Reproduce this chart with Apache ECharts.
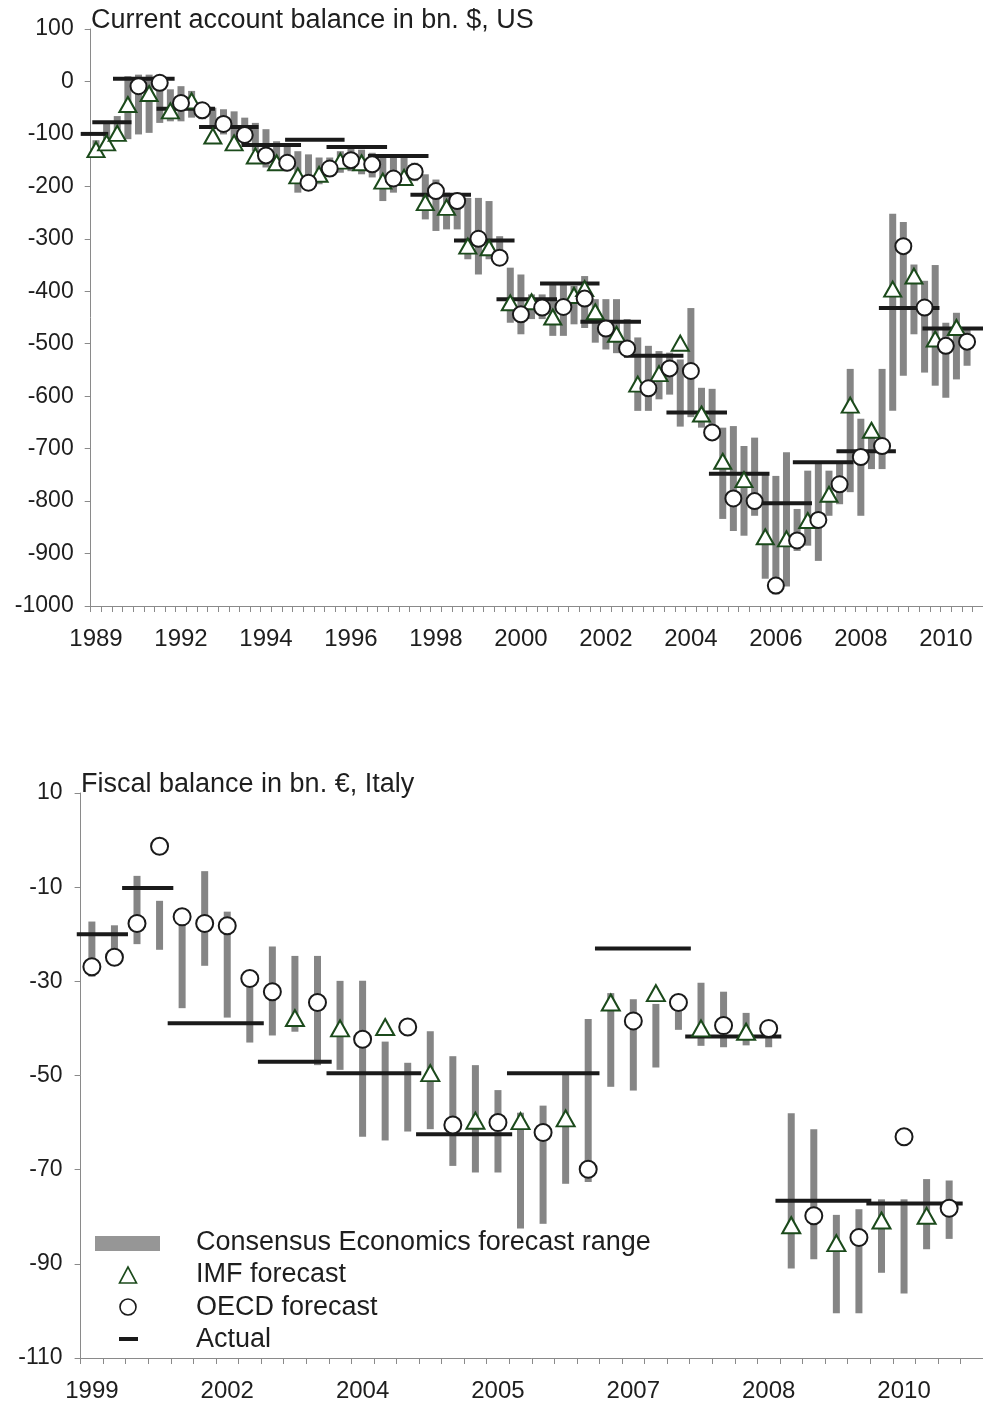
<!DOCTYPE html>
<html>
<head>
<meta charset="utf-8">
<script src="https://cdn.jsdelivr.net/npm/echarts/dist/echarts.min.js"></script>
<style>
html,body{margin:0;padding:0;background:#fff;}
#chart{width:983px;height:1405px;}
</style>
</head>
<body>
<div id="chart"></div>
<script>
// ---------------- DATA: top panel (US current account, bn $) ----------------
const topTitle = 'Current account balance in bn. $, US';
const topSlotCount = 84;
const topLabelStep = 8;
const topYearLabels = ['1989','1992','1994','1996','1998','2000','2002','2004','2006','2008','2010'];
const topRangeHigh = [-112,-76,-66,10,13,13,-9,-15,-9,-18,
  -44,-50,-53,-57,-69,-79,-91,-114,-120,-133,
  -139,-145,-145,-133,-126,-130,-136,-143,-143,-145,
  -155,-177,-187,-212,-212,-222,-222,-228,-295,-355,
  -368,-406,-406,-387,-387,-390,-371,-415,-415,-415,
  -453,-488,-504,-514,-517,-530,-432,-584,-586,-660,
  -657,-695,-679,-750,-752,-707,-815,-742,-729,-742,
  -729,-548,-643,-669,-548,-252,-268,-349,-380,-350,
  -460,-441,-469,null];
const topRangeLow = [-140,-117,-110,-110,-101,-98,-79,-76,-76,-69,
  -72,-91,-101,-117,-120,-133,-164,-168,-171,-212,
  -203,-196,-180,-174,-171,-177,-183,-228,-212,-193,
  -190,-263,-285,-282,-282,-339,-368,-339,-339,-460,
  -482,-453,-453,-485,-485,-463,-470,-498,-511,-518,
  -520,-628,-628,-606,-597,-658,-640,-660,-660,-834,
  -857,-866,-828,-948,-978,-963,-895,-885,-914,-828,
  -806,-783,-828,-739,-739,-628,-561,-482,-555,-580,
  -603,-568,-542,null];
const topIMF = [-130,-117,-99,-44,null,-23,null,-56,null,-37,
  null,-104,null,-117,null,-142,null,-155,null,-180,
  null,-177,null,-152,null,-155,null,-190,null,-183,
  null,-231,null,-240,null,-314,null,-317,null,-422,
  null,-420,null,-449,null,-408,-395,-439,null,-482,
  null,-577,null,-557,null,-499,null,-634,null,-724,
  null,-759,null,-868,null,-872,null,-837,null,-787,
  null,-617,null,-665,null,-396,null,-371,null,-491,
  null,-469,null,null];
const topOECD = [null,null,null,null,-9,null,-2.5,null,-41,null,
  -55,null,-81,null,-102,null,-141,null,-155,null,
  -193,null,-166,null,-150,null,-158,null,-185,null,
  -172,null,-209,null,-228,null,-300,null,-336,null,
  -444,null,-431,null,-430,null,-414,null,-471,null,
  -509,null,-585,null,-547,null,-552,null,-669,null,
  -795,null,-800,null,-961,null,-875,null,-836,null,
  -768,null,-716,null,-695,null,-314,null,-431,null,
  -504,null,-496,null];
// actual outcome: from slot, to slot, value
const topActualFrom  = [-0.94,0.15,2.1,6.2,10.2,14.2,18.3,22.2,26.1,30.1,34.2,38.2,42.3,46.1,50.2,54.2,58.2,62.2,66.1,70.2,74.2,78.3];
const topActualTo    = [1.65,3.84,7.9,11.7,15.8,19.8,23.9,27.9,31.8,35.8,39.9,43.9,47.9,51.8,55.8,59.9,63.9,67.9,71.8,75.8,79.9,84.0];
const topActualValue = [-100,-78,5,-52,-87,-121,-111,-125,-142,-216,-303,-415,-385,-458,-523,-631,-748,-804,-726,-705,-432,-471];

// ---------------- DATA: bottom panel (Italy fiscal balance, bn EUR) ----------------
const botTitle = 'Fiscal balance in bn. €, Italy';
const botSlotCount = 40;
const botLabelStep = 6;
const botYearLabels = ['1999','2002','2004','2005','2007','2008','2010'];
const botRangeHigh = [-17.3,-18.1,-7.6,-12.9,-16,-6.6,-15.2,-28,-22.6,-24.6,
  -24.6,-29.9,-29.9,-42.8,-47.3,-40.6,-45.9,-47.8,-53.1,-57.9,
  -56.4,-49.5,-38,-32.5,-33.8,-34.8,-35.7,-30.3,-32.2,-36.7,
  -40.3,-58,-61.4,-79.6,-78.4,-76.3,-76.3,-72,-72.3,null];
const botRangeLow = [-29,-26.3,-22.1,-23.3,-35.7,-26.7,-37.7,-43,-41.5,-40.7,
  -47.8,-48.8,-63,-63.8,-61.9,-61.4,-69.2,-70.6,-70.6,-82.5,
  -81.5,-73,-72.6,-52.4,-53.2,-48.3,-40.3,-43.7,-44,-43.6,
  -44,-91,-89,-100.5,-100.5,-91.9,-96.3,-86.9,-84.7,null];
const botIMF = [null,null,null,null,null,null,null,null,null,-37.8,
  null,-40.0,null,-39.7,null,-49.5,null,-59.6,null,-59.7,
  null,-59.1,null,-34.5,null,-32.5,null,-40.0,null,-40.7,
  null,-81.8,null,-85.6,null,-80.8,null,-79.8,null,null];
const botOECD = [-26.9,-24.9,-17.7,-1.3,-16.3,-17.7,-18.2,-29.4,-32.2,null,
  -34.5,null,-42.3,null,-39.7,null,-60.5,null,-60.0,null,
  -62.1,null,-69.9,null,-38.4,null,-34.5,null,-39.4,null,
  -40.0,null,-79.8,null,-84.4,null,-63.0,null,-78.2,null];
const botActualFrom  = [-0.17,1.84,3.86,7.86,10.9,14.87,18.9,22.8,26.8,30.8,34.83];
const botActualTo    = [2.1,4.11,8.12,11.13,15.1,19.13,23.0,27.05,31.06,35.05,39.1];
const botActualValue = [-20,-10.2,-38.9,-47.1,-49.5,-62.5,-49.5,-23,-41.7,-76.6,-77.2];

const legendNames = ['Consensus Economics forecast range','IMF forecast','OECD forecast','Actual'];

// ---------------- axis ranges ----------------
const TOP_MIN = -1000, TOP_MAX = 100, TOP_STEP = 100;
const BOT_MIN = -110, BOT_MAX = 10, BOT_STEP = 20; // plotted relative to BOT_MIN

// ---------------- styles ----------------
const FONT = "'Liberation Sans', Arial, sans-serif";
const TEXT = '#1e1e1e';
const AXIS = '#8a8a8a';
const BAR = '#858585';
const GREEN = '#1b4a1b';
const BAR_W = 7;

function cats(n, step, labels) {
  return Array.from({length: n}, (_, i) => (i % step === 0 && labels[i / step]) ? labels[i / step] : '');
}
function rangeData(hi, lo, off) {
  const out = [];
  hi.forEach((h, i) => { if (h != null && lo[i] != null) out.push([i + 0.5, lo[i] - off, h - off]); });
  return out;
}
function pointData(vals, off) {
  const out = [];
  vals.forEach((v, i) => { if (v != null) out.push([i + 0.5, v - off]); });
  return out;
}
function segData(from, to, val, off) {
  return val.map((v, i) => [from[i], to[i], v - off]);
}
function renderRange(params, api) {
  const x = api.value(0), lo = api.value(1), hi = api.value(2);
  const a = api.coord([x, hi]), b = api.coord([x, lo]);
  return {type: 'rect', shape: {x: a[0] - BAR_W / 2, y: a[1], width: BAR_W, height: b[1] - a[1]}, style: {fill: BAR}};
}
function renderSeg(params, api) {
  const a = api.coord([api.value(0), api.value(2)]);
  const b = api.coord([api.value(1), api.value(2)]);
  return {type: 'line', shape: {x1: a[0], y1: a[1], x2: b[0], y2: b[1]}, style: {stroke: '#1a1a1a', lineWidth: 4}};
}

const topSlotW = 10.67, botSlotW = 22.71;
const grids = [
  {left: 90.7, top: 29, width: topSlotCount * topSlotW, height: 577},
  {left: 80.6, top: 793, width: botSlotCount * botSlotW, height: 565}
];

function catAxis(gridIndex, data) {
  return {
    type: 'category', gridIndex, data, boundaryGap: true, position: 'bottom',
    axisLine: {onZero: false, lineStyle: {color: AXIS, width: 1}},
    axisTick: {show: true, interval: 0, length: 6, lineStyle: {color: AXIS}},
    axisLabel: {interval: 0, margin: 21, fontSize: 24, color: TEXT, fontFamily: FONT},
    splitLine: {show: false}
  };
}
function valXAxis(gridIndex, n) {
  return {type: 'value', gridIndex, min: 0, max: n, show: false, splitLine: {show: false}};
}

const option = {
  animation: false,
  backgroundColor: '#fff',
  title: [
    {text: topTitle, left: 91, top: 7, padding: 0, textStyle: {fontSize: 27, fontWeight: 'normal', color: TEXT, fontFamily: FONT}},
    {text: botTitle, left: 81, top: 771, padding: 0, textStyle: {fontSize: 27, fontWeight: 'normal', color: TEXT, fontFamily: FONT}}
  ],
  grid: grids,
  xAxis: [
    catAxis(0, cats(topSlotCount, topLabelStep, topYearLabels)),
    valXAxis(0, topSlotCount),
    catAxis(1, cats(botSlotCount, botLabelStep, botYearLabels)),
    valXAxis(1, botSlotCount)
  ],
  yAxis: [
    {type: 'value', gridIndex: 0, min: TOP_MIN, max: TOP_MAX, interval: TOP_STEP,
      axisLine: {show: true, lineStyle: {color: AXIS}}, axisTick: {show: true, length: 6, lineStyle: {color: AXIS}},
      axisLabel: {margin: 17, fontSize: 23, color: TEXT, fontFamily: FONT, formatter: v => String(v)}, splitLine: {show: false}},
    {type: 'value', gridIndex: 1, min: 0, max: BOT_MAX - BOT_MIN, interval: BOT_STEP,
      axisLine: {show: true, lineStyle: {color: AXIS}}, axisTick: {show: true, length: 6, lineStyle: {color: AXIS}},
      axisLabel: {margin: 18, fontSize: 23, color: TEXT, fontFamily: FONT, formatter: v => String(v + BOT_MIN)}, splitLine: {show: false}}
  ],
  series: [
    {name: legendNames[0], type: 'custom', xAxisIndex: 1, yAxisIndex: 0, renderItem: renderRange, encode: {x: 0, y: [1, 2]}, data: rangeData(topRangeHigh, topRangeLow, 0), z: 1},
    {name: legendNames[3], type: 'custom', xAxisIndex: 1, yAxisIndex: 0, renderItem: renderSeg, encode: {x: [0, 1], y: 2}, data: segData(topActualFrom, topActualTo, topActualValue, 0), z: 2, clip: false},
    {name: legendNames[1], type: 'scatter', xAxisIndex: 1, yAxisIndex: 0, symbol: 'triangle', symbolSize: [17, 15], data: pointData(topIMF, 0),
      itemStyle: {color: '#fff', borderColor: GREEN, borderWidth: 2, opacity: 1}, z: 3},
    {name: legendNames[2], type: 'scatter', xAxisIndex: 1, yAxisIndex: 0, symbol: 'circle', symbolSize: 16, data: pointData(topOECD, 0),
      itemStyle: {color: '#fff', borderColor: '#1a1a1a', borderWidth: 2, opacity: 1}, z: 4},

    {name: legendNames[0], type: 'custom', xAxisIndex: 3, yAxisIndex: 1, renderItem: renderRange, encode: {x: 0, y: [1, 2]}, data: rangeData(botRangeHigh, botRangeLow, BOT_MIN), z: 1},
    {name: legendNames[3], type: 'custom', xAxisIndex: 3, yAxisIndex: 1, renderItem: renderSeg, encode: {x: [0, 1], y: 2}, data: segData(botActualFrom, botActualTo, botActualValue, BOT_MIN), z: 2, clip: false},
    {name: legendNames[1], type: 'scatter', xAxisIndex: 3, yAxisIndex: 1, symbol: 'triangle', symbolSize: [18, 16], data: pointData(botIMF, BOT_MIN),
      itemStyle: {color: '#fff', borderColor: GREEN, borderWidth: 2, opacity: 1}, z: 3},
    {name: legendNames[2], type: 'scatter', xAxisIndex: 3, yAxisIndex: 1, symbol: 'circle', symbolSize: 17, data: pointData(botOECD, BOT_MIN),
      itemStyle: {color: '#fff', borderColor: '#1a1a1a', borderWidth: 2, opacity: 1}, z: 4}
  ],
  graphic: [
    {type: 'rect', shape: {x: 95, y: 1236, width: 65, height: 15}, style: {fill: '#969696'}},
    {type: 'polygon', shape: {points: [[128, 1267], [119.5, 1283], [136.5, 1283]]}, style: {fill: '#fff', stroke: GREEN, lineWidth: 1.6}},
    {type: 'circle', shape: {cx: 128, cy: 1307, r: 8}, style: {fill: '#fff', stroke: '#1a1a1a', lineWidth: 1.6}},
    {type: 'line', shape: {x1: 119, y1: 1339, x2: 138, y2: 1339}, style: {stroke: '#1a1a1a', lineWidth: 4}},
    {type: 'text', left: 196, top: 1229, style: {text: legendNames[0], fontSize: 27, fill: TEXT, fontFamily: FONT}},
    {type: 'text', left: 196, top: 1261, style: {text: legendNames[1], fontSize: 27, fill: TEXT, fontFamily: FONT}},
    {type: 'text', left: 196, top: 1294, style: {text: legendNames[2], fontSize: 27, fill: TEXT, fontFamily: FONT}},
    {type: 'text', left: 196, top: 1326, style: {text: legendNames[3], fontSize: 27, fill: TEXT, fontFamily: FONT}}
  ]
};

const chart = echarts.init(document.getElementById('chart'), null, {renderer: 'canvas'});
chart.setOption(option);
</script>
</body>
</html>
